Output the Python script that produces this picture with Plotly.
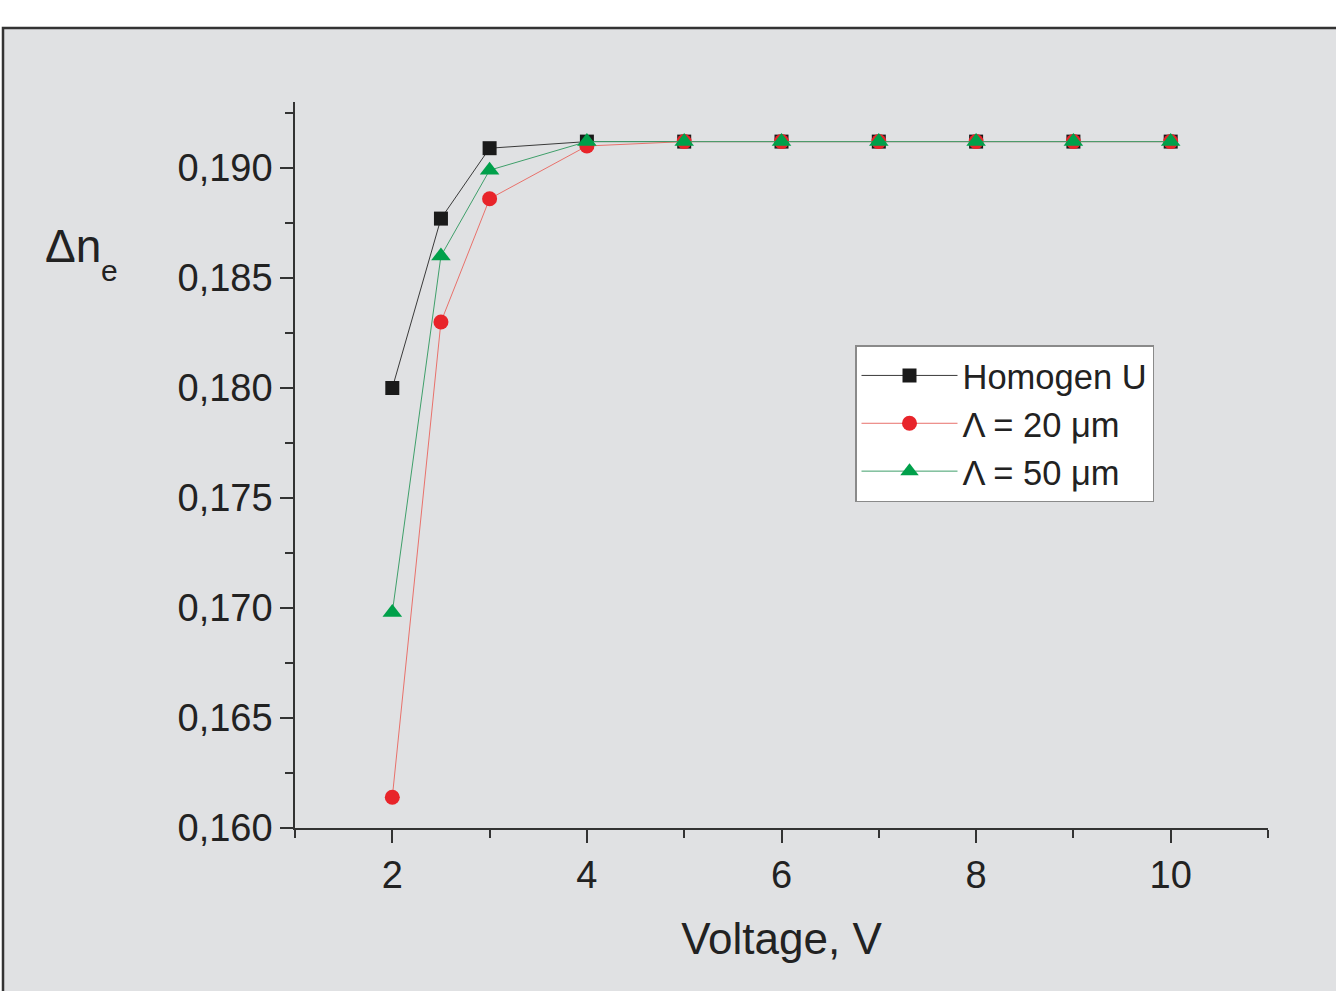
import plotly.graph_objects as go

voltage = [2, 2.5, 3, 4, 5, 6, 7, 8, 9, 10]
homogen_u = [0.1800, 0.1877, 0.1909, 0.1912, 0.1912, 0.1912, 0.1912, 0.1912, 0.1912, 0.1912]
lambda_20 = [0.1614, 0.1830, 0.1886, 0.1910, 0.1912, 0.1912, 0.1912, 0.1912, 0.1912, 0.1912]
lambda_50 = [0.1698, 0.1860, 0.1899, 0.1912, 0.1912, 0.1912, 0.1912, 0.1912, 0.1912, 0.1912]

x_ticks = [2, 4, 6, 8, 10]
y_ticks = [0.160, 0.165, 0.170, 0.175, 0.180, 0.185, 0.190]

BG = "#e0e1e3"
FONT = "Liberation Sans, Arial, sans-serif"

fig = go.Figure()
fig.add_trace(go.Scatter(
    x=voltage, y=homogen_u, name="Homogen U", mode="lines+markers",
    line=dict(color="#3a3a3a", width=1),
    marker=dict(symbol="square", size=14, color="#1a1a1a"),
))
fig.add_trace(go.Scatter(
    x=voltage, y=lambda_20, name="Λ = 20 μm", mode="lines+markers",
    line=dict(color="#e8716b", width=1),
    marker=dict(symbol="circle", size=15, color="#e8242a"),
))
fig.add_trace(go.Scatter(
    x=voltage, y=lambda_50, name="Λ = 50 μm", mode="lines+markers",
    line=dict(color="#3f9f6a", width=1),
    marker=dict(symbol="triangle-up", size=17, color="#00a04a"),
))

L, R, T, B = 295, 68, 102, 163
W, H = 1336, 991
pw = W - L - R
ph = H - T - B

def px_x(p):
    return (p - L) / pw

def px_y(p):
    return (H - B - p) / ph

fig.update_layout(
    width=W, height=H,
    margin=dict(l=L, r=R, t=T, b=B, pad=0),
    paper_bgcolor="white",
    plot_bgcolor=BG,
    separators=",.",
    font=dict(family=FONT, color="#222222", size=37),
    showlegend=True,
    legend=dict(
        x=px_x(855), y=px_y(345), xanchor="left", yanchor="top",
        bgcolor="white", bordercolor="#8a8a8a", borderwidth=1.5,
        font=dict(size=34.5, color="#222222", family=FONT),
        tracegroupgap=0, itemwidth=96,
    ),
    xaxis=dict(
        range=[1, 11], tickvals=x_ticks, ticks="outside", ticklen=13, tickwidth=1.5,
        tickcolor="#333333", showline=True, linecolor="#333333", linewidth=1.5,
        showgrid=False, zeroline=False,
        minor=dict(dtick=1, tick0=1, ticks="outside", ticklen=8, tickwidth=1.5, tickcolor="#333333", showgrid=False),
        tickfont=dict(size=38),
        title=dict(text="Voltage, V", font=dict(size=44), standoff=28),
    ),
    yaxis=dict(
        range=[0.160, 0.193], tickvals=y_ticks, tickformat=".3f", ticks="outside", ticklen=13,
        tickwidth=1.5, tickcolor="#333333", showline=True, linecolor="#333333", linewidth=1.5,
        showgrid=False, zeroline=False,
        minor=dict(dtick=0.0025, tick0=0.160, ticks="outside", ticklen=8, tickwidth=1.5, tickcolor="#333333", showgrid=False),
        tickfont=dict(size=38),
    ),
    shapes=[
        dict(type="rect", xref="paper", yref="paper", layer="below",
             x0=px_x(3), x1=px_x(1345), y0=px_y(1000), y1=px_y(28),
             fillcolor=BG, line=dict(color="#333333", width=2.5)),
    ],
    annotations=[
        dict(text="Δn", xref="paper", yref="paper",
             x=px_x(43), y=px_y(246), xanchor="left", yanchor="middle",
             showarrow=False, font=dict(size=46, color="#222222", family=FONT)),
        dict(text="e", xref="paper", yref="paper",
             x=px_x(99), y=px_y(270), xanchor="left", yanchor="middle",
             showarrow=False, font=dict(size=30, color="#222222", family=FONT)),
    ],
)

fig.write_html("out.html")
